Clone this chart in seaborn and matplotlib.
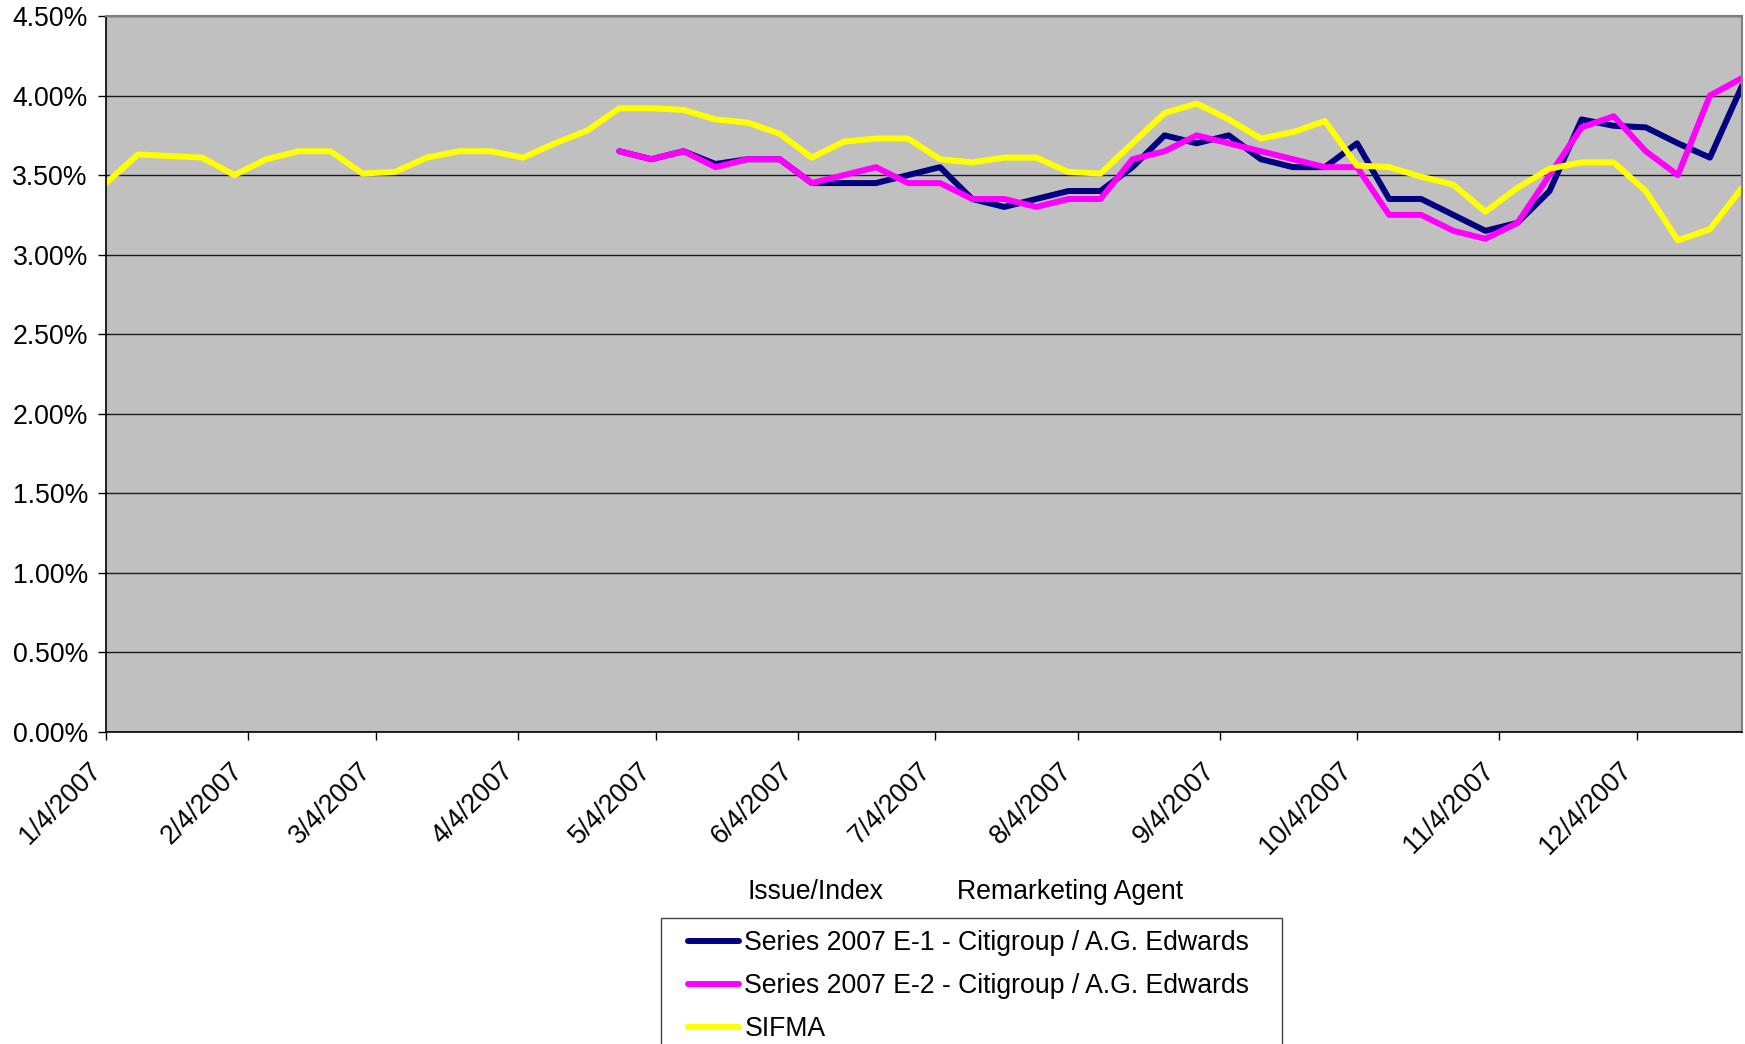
import numpy as np
import pandas as pd
import matplotlib
matplotlib.use("Agg")
import matplotlib.pyplot as plt
from matplotlib.ticker import FuncFormatter, MultipleLocator
from matplotlib.transforms import ScaledTranslation
from matplotlib.lines import Line2D
from matplotlib.patches import Rectangle
import seaborn as sns

# ---------------- data ----------------
week_dates = pd.date_range("2007-01-04", periods=52, freq="7D")

sifma = [3.45, 3.63, 3.62, 3.61, 3.50, 3.60, 3.65, 3.65, 3.51, 3.52,
         3.61, 3.65, 3.65, 3.61, 3.70, 3.78, 3.92, 3.92, 3.91, 3.85,
         3.83, 3.76, 3.61, 3.71, 3.73, 3.73, 3.60, 3.58, 3.61, 3.61,
         3.52, 3.51, 3.70, 3.89, 3.95, 3.85, 3.73, 3.77, 3.84, 3.56,
         3.55, 3.49, 3.44, 3.27, 3.42, 3.54, 3.58, 3.58, 3.40, 3.09,
         3.16, 3.42]

# Series E-1 / E-2 begin on week 16 (4/26/2007)
series_start = 16
e1 = [3.65, 3.60, 3.65, 3.57, 3.60, 3.60, 3.45, 3.45, 3.45, 3.50,
      3.55, 3.35, 3.30, 3.35, 3.40, 3.40, 3.55, 3.75, 3.70, 3.75,
      3.60, 3.55, 3.55, 3.70, 3.35, 3.35, 3.25, 3.15, 3.20, 3.40,
      3.85, 3.81, 3.80, 3.70, 3.61, 4.06]
e2 = [3.65, 3.60, 3.65, 3.55, 3.60, 3.60, 3.45, 3.50, 3.55, 3.45,
      3.45, 3.35, 3.35, 3.30, 3.35, 3.35, 3.60, 3.65, 3.75, 3.70,
      3.65, 3.60, 3.55, 3.55, 3.25, 3.25, 3.15, 3.10, 3.20, 3.50,
      3.80, 3.87, 3.65, 3.50, 4.00, 4.11]

names = ["Series 2007 E-1 - Citigroup / A.G. Edwards",
         "Series 2007 E-2 - Citigroup / A.G. Edwards",
         "SIFMA"]
colors = ["#000080", "#FF00FF", "#FFFF00"]

tick_dates = pd.date_range("2007-01-01", "2007-12-01", freq="MS") + pd.Timedelta(days=3)
tick_labels = [f"{d.month}/{d.day}/{d.year}" for d in tick_dates]

frames = [
    pd.DataFrame({"date": week_dates[series_start:], "rate": e1, "series": names[0]}),
    pd.DataFrame({"date": week_dates[series_start:], "rate": e2, "series": names[1]}),
    pd.DataFrame({"date": week_dates, "rate": sifma, "series": names[2]}),
]
df = pd.concat(frames, ignore_index=True)

# ---------------- plot ----------------
sns.set_theme(style="white")
plt.rcParams["font.family"] = ["Liberation Sans", "DejaVu Sans"]
plt.rcParams["text.color"] = "black"
plt.rcParams["xtick.color"] = "black"
plt.rcParams["ytick.color"] = "black"

W, H = 1745, 1044
fig = plt.figure(figsize=(W / 100, H / 100), dpi=100)
ax = fig.add_axes([106 / W, 1 - 732 / H, (1742 - 106) / W, (732 - 16) / H])
ax.set_facecolor("#C0C0C0")

LW = 4.3
sns.lineplot(data=df, x="date", y="rate", hue="series", hue_order=names,
             palette=colors, linewidth=LW, ax=ax, legend=False,
             estimator=None, sort=False)

ax.set_xlim(week_dates[0], week_dates[-1])
ax.set_ylim(0, 4.5)
ax.yaxis.set_major_locator(MultipleLocator(0.5))
ax.yaxis.set_major_formatter(FuncFormatter(lambda v, p: f"{v:.2f}%"))
ax.grid(axis="y", color="#1a1a1a", linewidth=1.0)
ax.set_axisbelow(True)

ax.set_xticks(tick_dates)
ax.set_xticklabels(tick_labels, rotation=45, ha="right", va="center",
                   rotation_mode="anchor", fontsize=19.2, color="black")
ax.tick_params(axis="x", direction="out", length=6, width=1, color="black",
               pad=19, bottom=True, labelcolor="black")
ax.tick_params(axis="y", direction="out", length=6, width=1, color="black",
               labelsize=19.2, pad=7, left=True, labelcolor="black")
for lab in ax.get_xticklabels():
    lab.set_transform(lab.get_transform() + ScaledTranslation(-0.09, 0, fig.dpi_scale_trans))

ax.set_xlabel("")
ax.set_ylabel("")
for side in ["left", "bottom"]:
    ax.spines[side].set_color("black")
    ax.spines[side].set_linewidth(1.2)
for side in ["top", "right"]:
    ax.spines[side].set_color("#808080")
    ax.spines[side].set_linewidth(1.5)

# legend header
fig.text(748 / W, 1 - 892 / H, "Issue/Index", fontsize=19.2, va="center", ha="left", color="black")
fig.text(957 / W, 1 - 892 / H, "Remarketing Agent", fontsize=19.2, va="center", ha="left", color="black")

# legend box
fig.patches.append(Rectangle((661 / W, 1 - 1060 / H), (1282 - 661) / W, (1060 - 918) / H,
                             transform=fig.transFigure, facecolor="white",
                             edgecolor="#404040", linewidth=1.0, zorder=1))
handles = [Line2D([0], [0], color=c, linewidth=LW) for c in colors]
leg = fig.legend(handles, names, loc="upper left", bbox_to_anchor=(683 / W, 1 - 925 / H),
                 frameon=False, fontsize=19.2, handlelength=1.9, handletextpad=0.2,
                 labelspacing=0.64, borderpad=0.2, borderaxespad=0)
for t in leg.get_texts():
    t.set_color("black")

fig.savefig("out.png", dpi=100, facecolor="white")
